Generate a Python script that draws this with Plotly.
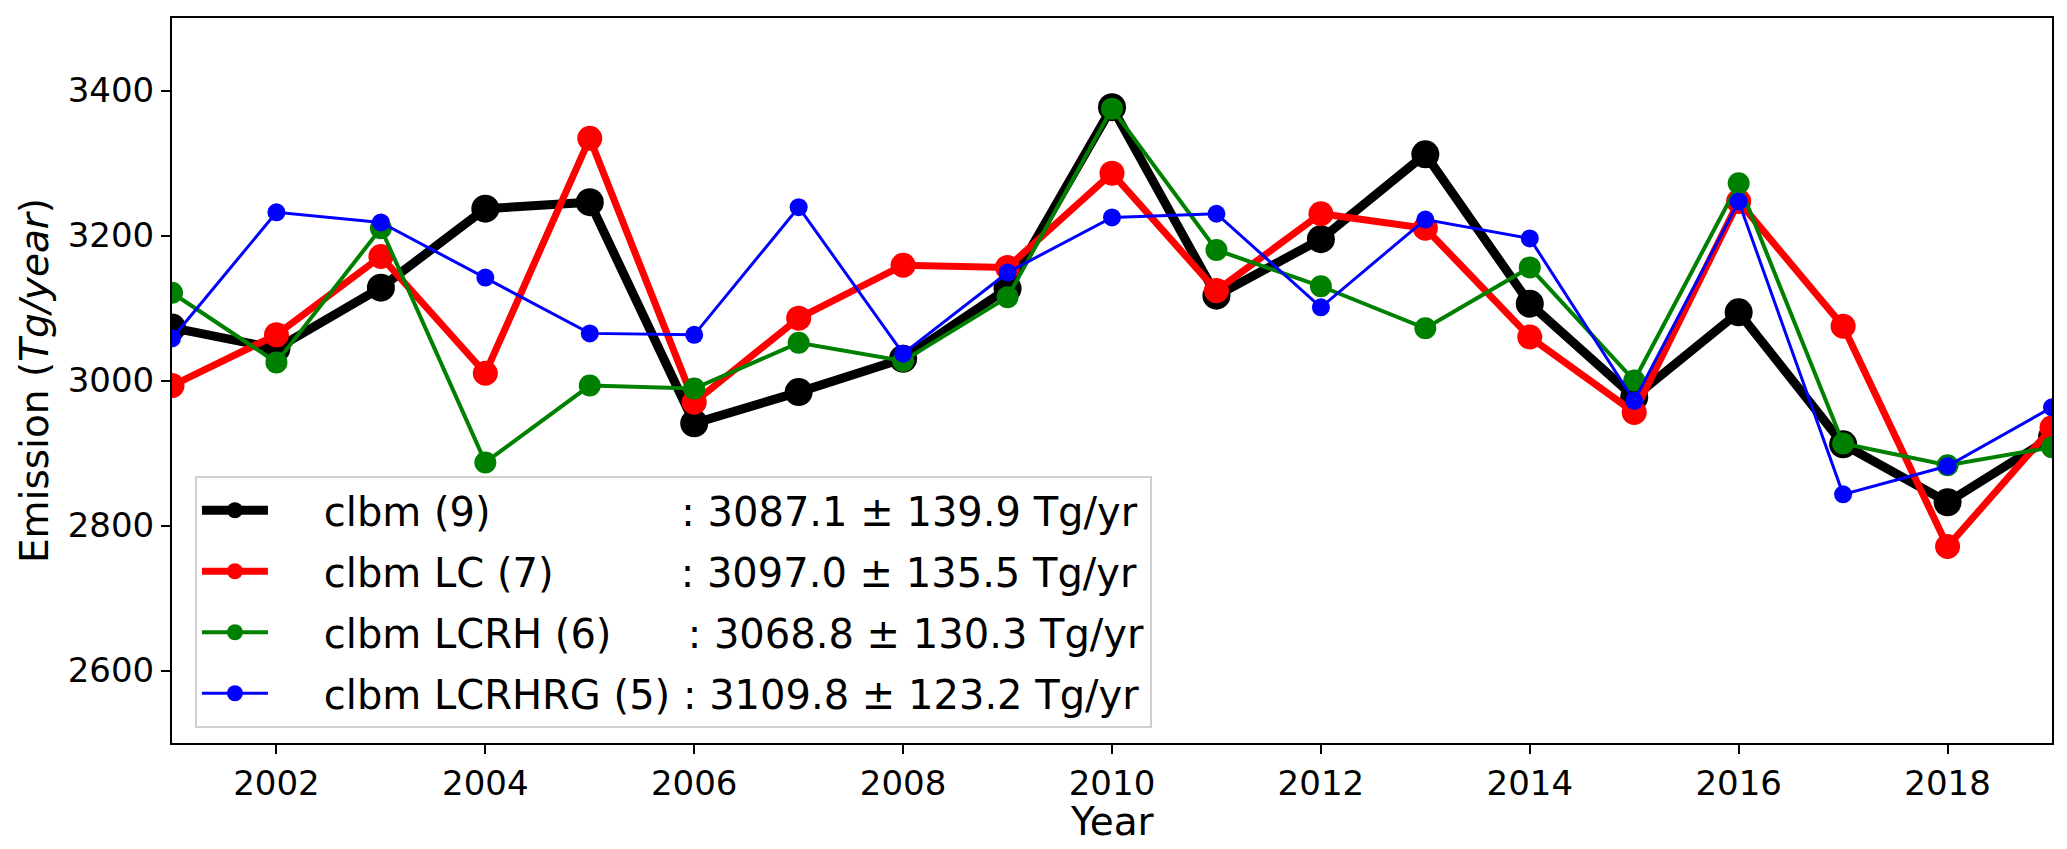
import plotly.graph_objects as go

years = list(range(2001, 2020))

clbm = [3073, 3044, 3128, 3237, 3246, 2941, 2984, 3030, 3127, 3377,
        3117, 3195, 3312, 3106, 2977, 3094, 2912, 2832, 2922]
clbm_lc = [2993, 3063, 3171, 3010, 3334, 2970, 3086, 3159, 3156, 3286,
           3124, 3230, 3210, 3060, 2956, 3247, 3075, 2771, 2935]
clbm_lcrh = [3121, 3025, 3210, 2887, 2993, 2989, 3052, 3027, 3115, 3375,
             3180, 3130, 3072, 3156, 3000, 3272, 2913, 2883, 2908]
clbm_lcrhrg = [3058, 3232, 3218, 3142, 3065, 3063, 3239, 3037, 3149, 3225,
               3230, 3101, 3222, 3196, 2972, 3247, 2843, 2882, 2963]

NB = "\u00a0"
PAD = NB * 4
names = [
    PAD + "clbm" + NB + "(9)" + NB * 15 + ":" + NB + "3087.1" + NB + "±" + NB + "139.9" + NB + "Tg/yr",
    PAD + "clbm" + NB + "LC" + NB + "(7)" + NB * 10 + ":" + NB + "3097.0" + NB + "±" + NB + "135.5" + NB + "Tg/yr",
    PAD + "clbm" + NB + "LCRH" + NB + "(6)" + NB * 6 + ":" + NB + "3068.8" + NB + "±" + NB + "130.3" + NB + "Tg/yr",
    PAD + "clbm" + NB + "LCRHRG" + NB + "(5)" + NB + ":" + NB + "3109.8" + NB + "±" + NB + "123.2" + NB + "Tg/yr",
]

series = [clbm, clbm_lc, clbm_lcrh, clbm_lcrhrg]
colors = ["#000000", "#ff0000", "#008000", "#0000ff"]
widths = [9, 7, 4, 3]
msizes = [28, 25, 22, 18]

x_ticks = list(range(2002, 2019, 2))
y_ticks = [2600, 2800, 3000, 3200, 3400]

FONT = "DejaVu Sans"

fig = go.Figure()
for i, (vals, col, lw, ms, nm) in enumerate(zip(series, colors, widths, msizes, names)):
    fig.add_trace(go.Scatter(
        x=years, y=vals, mode="lines+markers", name=nm,
        legendgroup=f"g{i}",
        line=dict(color=col, width=lw),
        marker=dict(color=col, size=ms, line=dict(width=0)),
        cliponaxis=True,
    ))

axis_common = dict(
    showline=True, linecolor="#000000", linewidth=2, mirror=True,
    ticks="outside", ticklen=9, tickwidth=2, tickcolor="#000000",
    showgrid=False, zeroline=False,
    tickfont=dict(family=FONT, size=34, color="#000000"),
)

fig.update_layout(
    width=2067, height=849,
    margin=dict(l=172, r=15, t=18, b=106, autoexpand=False),
    paper_bgcolor="white", plot_bgcolor="white",
    font=dict(family=FONT, color="#000000"),
    xaxis=dict(range=[2001, 2019], tickvals=x_ticks, **axis_common),
    yaxis=dict(range=[2500, 3500], tickvals=y_ticks,
               title=dict(text="Emission (<i>Tg/year</i>)", font=dict(family=FONT, size=39), standoff=7),
               **axis_common),
    legend=dict(
        x=0.0122, y=0.021, xanchor="left", yanchor="bottom",
        bgcolor="rgba(255,255,255,0.8)", bordercolor="#d0d0d0", borderwidth=2,
        font=dict(family=FONT, size=40, color="#000000"),
        tracegroupgap=6, itemwidth=66, itemsizing="trace",
        traceorder="grouped",
    ),
    showlegend=True,
    annotations=[dict(
        text="Year", xref="paper", yref="paper", x=0.5, y=-0.1083,
        xanchor="center", yanchor="middle", showarrow=False,
        font=dict(family=FONT, size=39, color="#000000"),
    )],
)

fig.write_html("out.html", config={"displayModeBar": False},
               post_script="document.body.style.margin='0';document.body.style.overflow='hidden';")
